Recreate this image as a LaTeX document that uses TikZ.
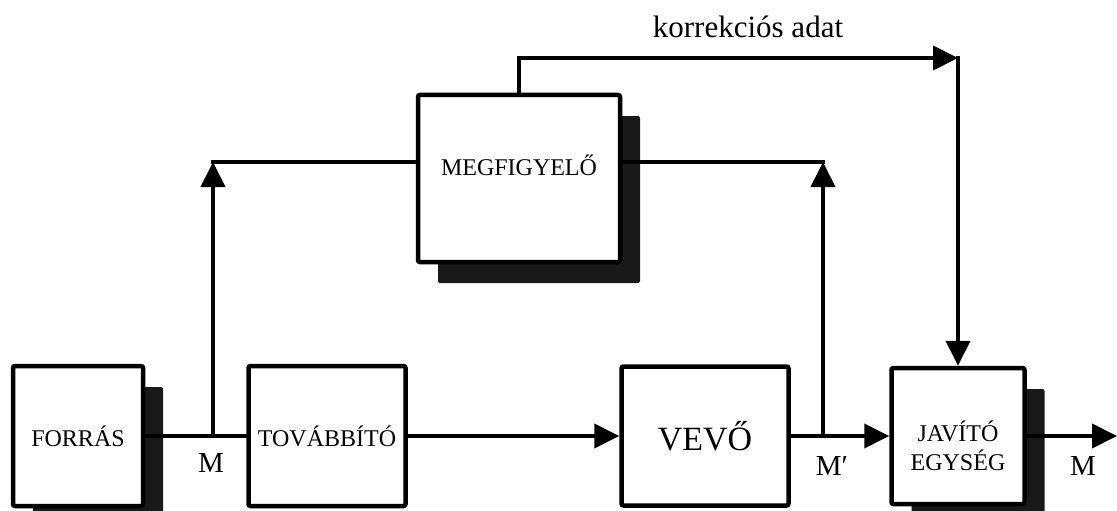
\documentclass[tikz,border=0pt]{standalone}
\usepackage{fontspec}
\setmainfont{Liberation Serif}
\usetikzlibrary{arrows.meta,shadows}
\begin{document}
\begin{tikzpicture}[x=1pt,y=-1pt,line width=4pt,line cap=rect,
  box/.style={draw,line width=4.5pt,fill=white,inner sep=0pt,rounded corners=2pt},
  boxfont/.style={font=\fontsize{24}{29}\selectfont},
  shad/.style={drop shadow={shadow xshift=20pt,shadow yshift=-21pt,fill=black!90,opacity=1}},
  lab/.style={font=\fontsize{29}{32}\selectfont},
  tip/.style={-{Triangle[length=25pt,width=24pt]}}]
\useasboundingbox (0,0) rectangle (1117,511);
% boxes
\node[box,shad,boxfont,minimum width=130pt,minimum height=140pt] (forras) at (78,436) {FORRÁS};
\node[box,boxfont,minimum width=157pt,minimum height=140pt] (tov) at (327,436) {TOVÁBBÍTÓ};
\node[box,minimum width=167pt,minimum height=139pt,font=\fontsize{34}{38}\selectfont] (vevo) at (705,436) {VEVŐ};
\node[box,shad,minimum width=133pt,minimum height=136pt,
  label={[boxfont,align=center,yshift=-10pt]center:JAVÍTÓ\\EGYSÉG}] (jav) at (958,436) {};
\node[box,shad,minimum width=202pt,minimum height=167pt,
  label={[boxfont,yshift=13.5pt]center:MEGFIGYELŐ}] (megf) at (519,178.5) {};
% coordinates
\coordinate (mj) at (213,436);
\coordinate (mpj) at (823,436);
\coordinate (cl) at (213,162);
\coordinate (cr) at (823,162);
\coordinate (ct) at (958,58);
\coordinate (out) at (1117,436);
% connectors
\draw (forras.east) -- (tov.west);
\draw[tip] (tov.east) -- (vevo.west);
\draw (vevo.east) -- (mpj);
\draw[tip] (mpj) -- (jav.west);
\draw[tip] (jav.east) -- (out);
\draw[tip] (mj) -- (cl);
\draw (cl) -- (megf.west |- cl);
\draw[tip] (mpj) -- (cr);
\draw (cr) -- (megf.east |- cr);
\draw[tip] (megf.north) |- (ct);
\draw[tip] (ct) -- (jav.north);
% labels
\node[lab] (lm) at (211,463) {M};
\node[lab] (lmp) at (832,466) {M′};
\node[lab] (lm2) at (1083,466) {M};
\node[font=\fontsize{31}{34}\selectfont] (korr) at (748,27) {korrekciós adat};
\end{tikzpicture}
\end{document}
